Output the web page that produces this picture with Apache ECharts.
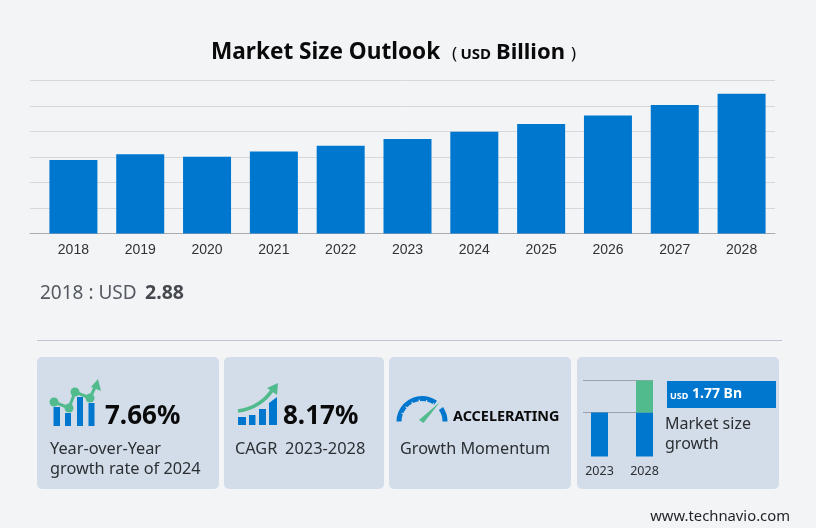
<!DOCTYPE html>
<html>
<head>
<meta charset="utf-8">
<script src="https://cdn.jsdelivr.net/npm/echarts@6/dist/echarts.min.js"></script>
<style>
  html, body { margin: 0; padding: 0; background: #f3f4f6; }
  #main { width: 816px; height: 528px; }
</style>
</head>
<body>
<div id="main"></div>
<script>
const years = ["2018", "2019", "2020", "2021", "2022", "2023", "2024", "2025", "2026", "2027", "2028"];
const marketSize = [2.88, 3.11, 3.01, 3.22, 3.44, 3.71, 3.99, 4.29, 4.63, 5.04, 5.48];

// small chart in the last card (its own units, not USD)
const miniYears = ["2023", "2028"];
const miniBase = [44, 44];
const miniGrowth = [0, 32];

const BLUE = "#0077cf";
const GREEN = "#52bb8e";
const CARD = "#d3dde9";
const FONT = "'Noto Sans', sans-serif";

function text(x, y, str, size, opts) {
  opts = opts || {};
  return {
    type: "text",
    x: x,
    y: y,
    style: {
      text: str,
      fontSize: size,
      fontFamily: opts.family || FONT,
      fontWeight: opts.weight || "normal",
      fill: opts.color || "#2b2f33",
      textAlign: opts.align || "left",
      textVerticalAlign: "middle",
    },
  };
}

function card(x, width) {
  return {
    type: "rect",
    shape: { x: x, y: 357, width: width, height: 132, r: 5 },
    style: { fill: CARD },
  };
}

function iconRect(x, y, width, height) {
  return { type: "rect", shape: { x: x, y: y, width: width, height: height }, style: { fill: BLUE } };
}

function greenLine(points, width) {
  return {
    type: "polyline",
    shape: { points: points },
    style: { stroke: GREEN, lineWidth: width, fill: null },
  };
}

function greenShape(points) {
  return { type: "polygon", shape: { points: points }, style: { fill: GREEN } };
}

function dot(x, y) {
  return { type: "circle", shape: { cx: x, cy: y, r: 4.5 }, style: { fill: GREEN } };
}

function gaugeArc(start, end) {
  return {
    type: "sector",
    shape: { cx: 422, cy: 421.5, r: 25.5, r0: 20.5, startAngle: start, endAngle: end, clockwise: true },
    style: { fill: BLUE },
  };
}

const gaugeTicks = [-2.75, -2.4, -2.05, -1.7, -1.35, -1.0].map((a) => ({
  type: "line",
  shape: {
    x1: 422 + 19 * Math.cos(a),
    y1: 421.5 + 19 * Math.sin(a),
    x2: 422 + 22 * Math.cos(a),
    y2: 421.5 + 22 * Math.sin(a),
  },
  style: { stroke: CARD, lineWidth: 1.3 },
}));

const graphics = [
  // heading
  text(211, 53, "Market Size Outlook", 22.6, { weight: "bold", color: "#0a0a0a" }),
  text(452, 54, "(", 17, { color: "#0a0a0a" }),
  text(460.5, 55, "USD", 15, { weight: "bold", color: "#0a0a0a" }),
  text(496, 53, "Billion", 22, { weight: "bold", color: "#0a0a0a" }),
  text(571, 54, ")", 17, { color: "#0a0a0a" }),

  text(40, 294, "2018 : USD", 19, { color: "#555a60" }),
  text(145, 293, "2.88", 19.5, { weight: "bold", color: "#45484d" }),

  {
    type: "line",
    shape: { x1: 37, y1: 340.5, x2: 782, y2: 340.5 },
    style: { stroke: "#bfc3d3", lineWidth: 1 },
  },

  card(37, 182),
  card(224, 160),
  card(389, 182),
  card(577, 202),

  // card 1 icon
  iconRect(53.5, 407, 6.5, 19),
  iconRect(65, 413, 6, 13),
  iconRect(77, 397, 6, 29),
  iconRect(88.5, 403, 6, 23),
  greenLine([[54, 402], [69, 408], [75, 392], [90, 398], [96, 385]], 3),
  dot(54, 402),
  dot(69, 408),
  dot(75, 392),
  dot(90, 398),
  greenShape([[98, 379], [101, 391], [91, 387]]),
  text(105, 417, "7.66%", 26, { weight: "bold", color: "#0a0a0a" }),
  text(50, 449.5, "Year-over-Year", 16.3),
  text(50, 469.5, "growth rate of 2024", 16.3),

  // card 2 icon
  iconRect(238, 417, 8, 8),
  iconRect(249, 415, 6.5, 10),
  iconRect(259, 409, 7, 16),
  { type: "polygon", shape: { points: [[269, 403], [277, 397], [277, 425], [269, 425]] }, style: { fill: BLUE } },
  {
    type: "bezierCurve",
    shape: { x1: 238, y1: 411, cpx1: 252, cpy1: 409, cpx2: 264, cpy2: 403, x2: 273, y2: 389 },
    style: { stroke: GREEN, lineWidth: 3.5, fill: null },
  },
  greenShape([[278, 383], [277, 395], [267, 388]]),
  text(283, 417, "8.17%", 26, { weight: "bold", color: "#0a0a0a" }),
  text(235, 449.5, "CAGR", 16.3),
  text(285, 449.5, "2023-2028", 16.4),

  // card 3 gauge
  gaugeArc(Math.PI, Math.PI * 1.7),
  gaugeArc(-0.6, 0),
  ...gaugeTicks,
  greenShape([[419, 420], [423.5, 423], [440, 402]]),
  text(453, 417, "ACCELERATING", 14.4, { weight: "bold", color: "#0a0a0a" }),
  text(400, 449.5, "Growth Momentum", 16.2),

  // card 4 text (bars are series below)
  { type: "line", shape: { x1: 583, y1: 380.5, x2: 653, y2: 380.5 }, style: { stroke: "#9aa3ad", lineWidth: 1 } },
  { type: "line", shape: { x1: 583, y1: 412.5, x2: 653, y2: 412.5 }, style: { stroke: "#9aa3ad", lineWidth: 1 } },
  { type: "rect", shape: { x: 667, y: 381, width: 109, height: 27 }, style: { fill: BLUE } },
  text(670, 396, "USD", 9, { weight: "bold", color: "#ffffff" }),
  text(692, 394.5, "1.77 Bn", 14, { weight: "bold", color: "#ffffff" }),
  text(665, 424.5, "Market size", 16),
  text(665, 444.5, "growth", 16),

  text(790, 517, "www.technavio.com", 14.8, { align: "right", color: "#1f2226" }),
];

const chart = echarts.init(document.getElementById("main"), null, { renderer: "canvas" });
chart.setOption({
  backgroundColor: "#f3f4f6",
  animation: false,
  grid: [
    // gridlines run wider than the bars, so they get their own grid
    { left: 30, right: 41, top: 80.5, height: 153 },
    { left: 40, right: 41, top: 80.5, height: 153 },
    { left: 577, width: 90, top: 380.5, height: 76 },
  ],
  xAxis: [
    {
      gridIndex: 0,
      type: "category",
      data: years,
      axisLine: { lineStyle: { color: "#a9abb0", width: 1 } },
      axisTick: { show: false },
      axisLabel: { show: false },
    },
    {
      gridIndex: 1,
      type: "category",
      data: years,
      axisLine: { show: false },
      axisTick: { show: false },
      axisLabel: { margin: 10, fontSize: 14, color: "#333", fontFamily: "'Liberation Sans', Arial, sans-serif" },
    },
    {
      gridIndex: 2,
      type: "category",
      data: miniYears,
      axisLine: { show: false },
      axisTick: { show: false },
      axisLabel: { margin: 8, fontSize: 12.5, color: "#2b2f33", fontFamily: FONT },
    },
  ],
  yAxis: [
    {
      gridIndex: 0,
      type: "value",
      min: 0,
      max: 6,
      interval: 1,
      axisLabel: { show: false },
      axisLine: { show: false },
      axisTick: { show: false },
      splitLine: { lineStyle: { color: "#d6d7dd", width: 1 } },
    },
    { gridIndex: 1, type: "value", min: 0, max: 6, interval: 1, show: false },
    { gridIndex: 2, type: "value", min: 0, max: 76, show: false },
  ],
  series: [
    {
      type: "bar",
      xAxisIndex: 1,
      yAxisIndex: 1,
      data: marketSize,
      barWidth: 48,
      itemStyle: { color: BLUE },
    },
    {
      type: "bar",
      xAxisIndex: 2,
      yAxisIndex: 2,
      stack: "mini",
      data: miniBase,
      barWidth: 17,
      itemStyle: { color: BLUE },
    },
    {
      type: "bar",
      xAxisIndex: 2,
      yAxisIndex: 2,
      stack: "mini",
      data: miniGrowth,
      barWidth: 17,
      itemStyle: { color: GREEN },
    },
  ],
  graphic: { elements: graphics },
});
</script>
</body>
</html>
